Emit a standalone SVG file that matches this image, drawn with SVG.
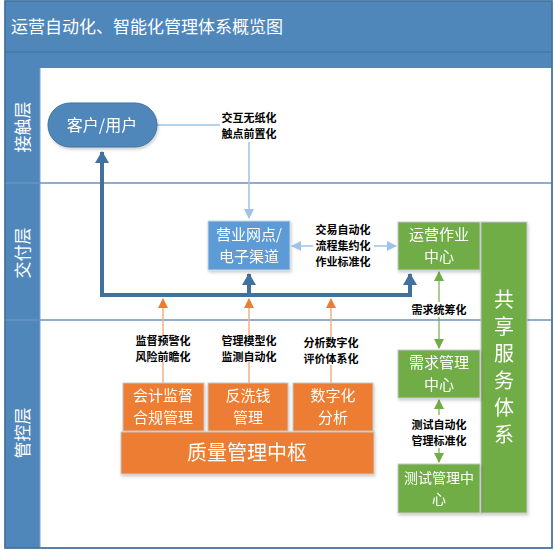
<svg xmlns="http://www.w3.org/2000/svg" width="554" height="550" viewBox="0 0 554 550">
<defs>
<style>
text{font-family:"Noto Sans CJK SC","Liberation Sans",sans-serif;}
.w{fill:#fff;text-anchor:middle;}
.t{font-size:15px;}
.lbl{font-size:11px;font-weight:bold;fill:#000;text-anchor:middle;}
.lane{font-size:17px;fill:#fff;text-anchor:middle;}
.blue{fill:#5b9bd5;stroke:#c9d6e4;stroke-width:1;}
.green{fill:#70ad47;stroke:#c8c8c8;stroke-width:1;}
.orange{fill:#ed7d31;stroke:#c8c8c8;stroke-width:1;}
.lb{stroke:#9dc3e6;stroke-width:1.5;fill:none;}
.lg{stroke:#70ad47;stroke-width:1.2;fill:none;}
.lo{stroke:#f4b183;stroke-width:1.5;fill:none;}
.thick{stroke:#41719c;stroke-width:4;fill:none;}
.v{font-size:20px;}
</style>
<marker id="ab" markerWidth="10" markerHeight="10" refX="9" refY="5" orient="auto-start-reverse" markerUnits="userSpaceOnUse"><path d="M0,0 L10,5 L0,10 Z" fill="#9dc3e6"/></marker>
<marker id="ag" markerWidth="10" markerHeight="10" refX="9" refY="5" orient="auto-start-reverse" markerUnits="userSpaceOnUse"><path d="M0,0 L10,5 L0,10 Z" fill="#70ad47"/></marker>
<marker id="ao" markerWidth="10" markerHeight="10" refX="9" refY="5" orient="auto-start-reverse" markerUnits="userSpaceOnUse"><path d="M0,0 L10,5 L0,10 Z" fill="#ed7d31"/></marker>
<marker id="at" markerWidth="12" markerHeight="14" refX="11" refY="7" orient="auto" markerUnits="userSpaceOnUse"><path d="M0,0 L12,7 L0,14 Z" fill="#41719c"/></marker>
<filter id="sh" x="-10%" y="-10%" width="130%" height="130%"><feDropShadow dx="1" dy="2" stdDeviation="1.5" flood-color="#000" flood-opacity="0.2"/></filter>
</defs>
<g id="frame">
<rect x="5" y="1" width="547" height="547" fill="#fff" stroke="#41719c" stroke-width="1"/>
<rect x="5" y="1" width="547" height="67" fill="#4f87bb"/>
<line x1="5" y1="52" x2="552" y2="52" stroke="#41719c" stroke-width="1"/>
<rect x="5" y="68" width="35" height="480" fill="#4f87bb"/>
<line x1="40" y1="68" x2="40" y2="548" stroke="#7aa3cc" stroke-width="1"/>
<line x1="5" y1="183" x2="552" y2="183" stroke="#6a93bf" stroke-width="1.5"/>
<line x1="5" y1="320" x2="552" y2="320" stroke="#6a93bf" stroke-width="1.5"/>
<rect x="5" y="1" width="547" height="547" fill="none" stroke="#41719c" stroke-width="1.5"/>
<text x="11" y="33" font-size="17" fill="#fff">运营自动化、智能化管理体系概览图</text>
<text class="lane" transform="translate(29,127) rotate(-90)">接触层</text>
<text class="lane" transform="translate(29,253) rotate(-90)">交付层</text>
<text class="lane" transform="translate(29,433) rotate(-90)">管控层</text>
</g>
<g id="connectors">
<path class="lb" d="M157,125 H220"/>
<path class="lb" d="M249,142 V218" marker-end="url(#ab)"/>
<path class="lb" d="M313,246 H292" marker-end="url(#ab)"/>
<path class="lb" d="M374,246 H396" marker-end="url(#ab)"/>
<path class="thick" d="M102,295 V152" marker-end="url(#at)"/>
<path class="thick" d="M100,295 H410 V274" marker-end="url(#at)"/>
<path class="thick" d="M249,295 V274" marker-end="url(#at)"/>
<path class="lo" d="M163,383 V362"/>
<path class="lo" d="M163,335 V299" marker-end="url(#ao)"/>
<path class="lo" d="M249,383 V362"/>
<path class="lo" d="M249,335 V299" marker-end="url(#ao)"/>
<path class="lo" d="M331,383 V365"/>
<path class="lo" d="M331,337 V299" marker-end="url(#ao)"/>
<path class="lg" d="M439,302 V272" marker-end="url(#ag)"/>
<path class="lg" d="M439,317 V348" marker-end="url(#ag)"/>
<path class="lg" d="M439,415 V400" marker-end="url(#ag)"/>
<path class="lg" d="M439,448 V462" marker-end="url(#ag)"/>
<text class="lbl" x="249" y="122">交互无纸化</text>
<text class="lbl" x="249" y="138">触点前置化</text>
<text class="lbl" x="343" y="234">交易自动化</text>
<text class="lbl" x="343" y="250">流程集约化</text>
<text class="lbl" x="343" y="266">作业标准化</text>
<text class="lbl" x="163" y="345">监督预警化</text>
<text class="lbl" x="163" y="361">风险前瞻化</text>
<text class="lbl" x="249" y="345">管理模型化</text>
<text class="lbl" x="249" y="361">监测自动化</text>
<text class="lbl" x="331" y="347">分析数字化</text>
<text class="lbl" x="331" y="363">评价体系化</text>
<text class="lbl" x="439" y="314">需求统筹化</text>
<text class="lbl" x="439" y="429">测试自动化</text>
<text class="lbl" x="439" y="445">管理标准化</text>
</g>
<g id="customer" filter="url(#sh)">
<rect x="48" y="103" width="109" height="44" rx="22" fill="#4f87bb" stroke="#41719c" stroke-width="1"/>
<text class="w" x="102" y="131" font-size="16">客户/用户</text>
</g>
<g id="channel" filter="url(#sh)">
<rect class="blue" x="208" y="221" width="82" height="49"/>
<text class="w t" x="249" y="240">营业网点/</text>
<text class="w t" x="249" y="262">电子渠道</text>
</g>
<g id="ops" filter="url(#sh)">
<rect class="green" x="398" y="222" width="82" height="48"/>
<text class="w t" x="439" y="240">运营作业</text>
<text class="w t" x="439" y="262">中心</text>
</g>
<g id="shared" filter="url(#sh)">
<rect class="green" x="481" y="222" width="46" height="291"/>
<text class="w v" x="504" y="307">共</text>
<text class="w v" x="504" y="334">享</text>
<text class="w v" x="504" y="361">服</text>
<text class="w v" x="504" y="388">务</text>
<text class="w v" x="504" y="415">体</text>
<text class="w v" x="504" y="442">系</text>
</g>
<g id="demand" filter="url(#sh)">
<rect class="green" x="398" y="350" width="82" height="48"/>
<text class="w t" x="439" y="368">需求管理</text>
<text class="w t" x="439" y="390">中心</text>
</g>
<g id="test" filter="url(#sh)">
<rect class="green" x="398" y="464" width="82" height="49"/>
<text class="w" x="439" y="483" font-size="14">测试管理中</text>
<text class="w" x="439" y="504" font-size="14">心</text>
</g>
<g id="audit" filter="url(#sh)">
<rect class="orange" x="123" y="383" width="81" height="48"/>
<text class="w t" x="163" y="401">会计监督</text>
<text class="w t" x="163" y="423">合规管理</text>
</g>
<g id="aml" filter="url(#sh)">
<rect class="orange" x="208" y="383" width="80" height="48"/>
<text class="w t" x="248" y="401">反洗钱</text>
<text class="w t" x="248" y="423">管理</text>
</g>
<g id="digital" filter="url(#sh)">
<rect class="orange" x="293" y="383" width="80" height="48"/>
<text class="w t" x="333" y="401">数字化</text>
<text class="w t" x="333" y="423">分析</text>
</g>
<g id="quality" filter="url(#sh)">
<rect class="orange" x="121" y="432" width="253" height="42"/>
<text class="w" x="247" y="460" font-size="20">质量管理中枢</text>
</g>
</svg>
